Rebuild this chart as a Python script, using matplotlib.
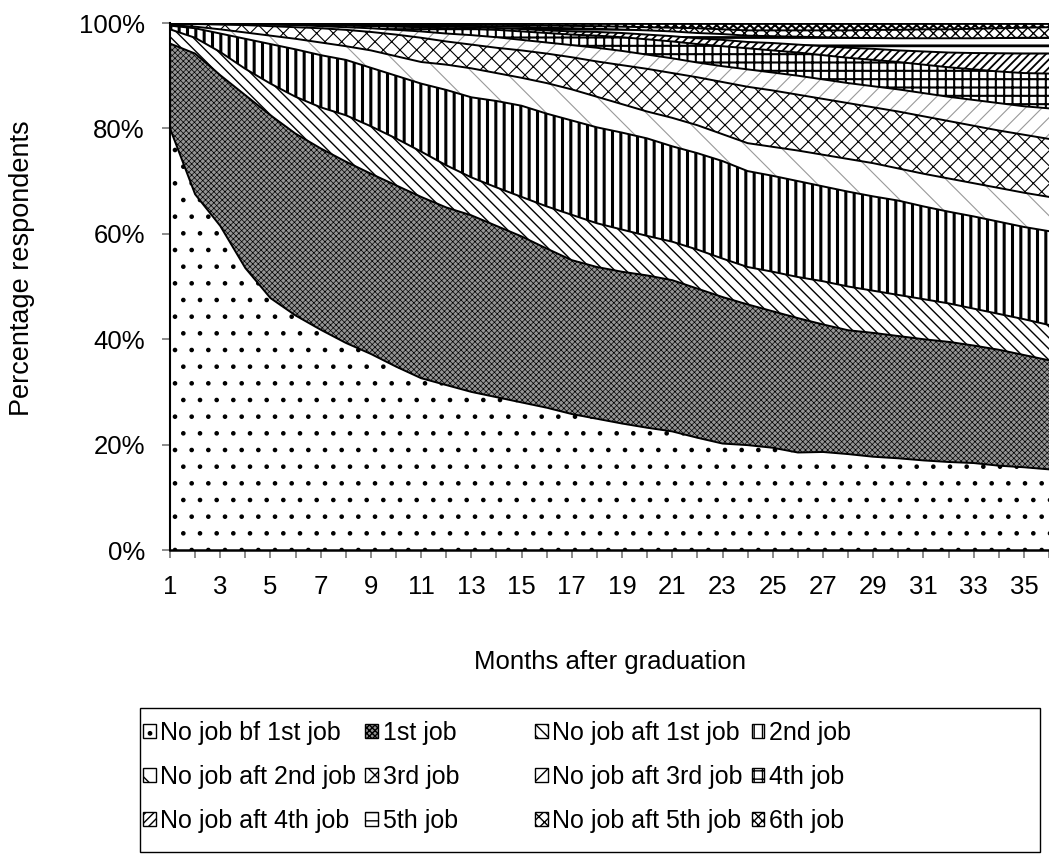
import numpy as np
import matplotlib
matplotlib.use('Agg')
import matplotlib.pyplot as plt
import matplotlib.patches as mpatches

# Months after graduation (category axis)
months = list(range(1, 37))

# Cumulative upper edge (%) of each layer
top_no_job_bf_1st = [80.0, 67.5, 61.5, 53.5, 47.8, 44.5, 41.8, 39.3, 37.2, 34.8, 32.6, 31.3,
                     30.0, 29.0, 28.0, 27.0, 25.8, 24.9, 24.0, 23.2, 22.5, 21.3, 20.2, 19.9,
                     19.4, 18.5, 18.6, 18.2, 17.7, 17.4, 17.0, 16.7, 16.5, 16.0, 15.7, 15.3]
top_1st_job = [96.1, 94.2, 90.1, 86.3, 82.5, 79.0, 76.2, 73.7, 71.4, 69.2, 67.0, 65.0,
               63.5, 61.5, 59.5, 57.2, 55.0, 53.7, 52.8, 52.1, 51.2, 49.6, 48.0, 46.6,
               45.3, 44.0, 42.8, 41.7, 41.2, 40.6, 40.0, 39.5, 38.8, 38.0, 37.0, 36.0]
top_no_job_aft_1st = [98.8, 97.2, 94.5, 91.3, 88.5, 86.0, 84.0, 82.5, 80.4, 78.1, 75.6, 73.0,
                      70.7, 68.8, 67.0, 65.2, 63.6, 62.0, 60.8, 59.6, 58.5, 57.0, 55.3, 53.7,
                      52.8, 51.8, 51.0, 50.0, 49.2, 48.4, 47.6, 46.8, 45.8, 44.8, 43.8, 42.7]
top_2nd_job = [99.5, 99.0, 98.0, 97.0, 96.0, 95.0, 93.9, 93.0, 91.5, 90.0, 88.5, 87.3,
               85.9, 85.2, 84.3, 82.8, 81.5, 80.2, 79.2, 78.1, 76.6, 75.3, 73.8, 71.9,
               71.0, 70.0, 69.0, 68.0, 67.1, 66.3, 65.2, 64.2, 63.3, 62.3, 61.3, 60.5]
top_no_job_aft_2nd = [99.6, 99.3, 98.8, 98.2, 97.6, 97.0, 96.3, 95.6, 94.8, 93.7, 92.6, 92.1,
                      91.4, 90.5, 89.6, 88.6, 87.4, 86.0, 84.6, 83.2, 82.0, 80.6, 78.9, 77.2,
                      76.5, 75.8, 75.0, 74.2, 73.4, 72.4, 71.4, 70.5, 69.6, 68.7, 67.8, 67.0]
top_3rd_job = [99.8, 99.8, 99.7, 99.6, 99.4, 99.2, 99.0, 98.7, 98.3, 97.8, 97.2, 96.5,
               95.9, 95.3, 94.8, 94.2, 93.5, 92.7, 92.0, 91.3, 90.5, 89.7, 88.8, 87.9,
               87.2, 86.4, 85.6, 84.8, 84.0, 83.2, 82.3, 81.4, 80.5, 79.6, 78.8, 78.0]
top_no_job_aft_3rd = [99.9, 99.9, 99.8, 99.8, 99.7, 99.6, 99.4, 99.2, 99.0, 98.7, 98.4, 98.0,
                      97.7, 97.3, 96.8, 96.3, 95.8, 95.3, 94.7, 94.0, 93.3, 92.5, 91.8, 91.2,
                      90.6, 90.0, 89.3, 88.6, 88.0, 87.4, 86.7, 86.0, 85.4, 84.8, 84.2, 83.8]
top_4th_job = [99.95, 99.95, 99.85, 99.85, 99.75, 99.7, 99.6, 99.5, 99.4, 99.3, 99.2, 99.0,
               98.9, 98.7, 98.4, 98.1, 97.8, 97.6, 97.3, 96.9, 96.5, 96.0, 95.6, 95.2,
               94.8, 94.4, 93.9, 93.4, 93.0, 92.6, 92.1, 91.6, 91.2, 90.8, 90.5, 90.4]
top_no_job_aft_4th = [99.97, 99.97, 99.9, 99.9, 99.8, 99.75, 99.7, 99.6, 99.55, 99.5, 99.4, 99.3,
                      99.2, 99.05, 98.85, 98.6, 98.4, 98.3, 98.1, 97.8, 97.5, 97.1, 96.8, 96.4,
                      96.2, 95.9, 95.6, 95.3, 95.1, 94.8, 94.6, 94.4, 94.3, 94.25, 94.2, 94.2]
top_5th_job = [99.98, 99.98, 99.92, 99.92, 99.83, 99.78, 99.75, 99.7, 99.65, 99.6, 99.55, 99.5,
               99.45, 99.35, 99.25, 99.1, 99.0, 98.9, 98.75, 98.6, 98.4, 98.1, 97.9, 97.6,
               97.5, 97.4, 97.3, 97.2, 97.15, 97.1, 97.1, 97.1, 97.1, 97.15, 97.2, 97.2]
top_no_job_aft_5th = [99.99, 99.99, 99.95, 99.95, 99.9, 99.9, 99.85, 99.85, 99.8, 99.8, 99.8, 99.75,
                      99.7, 99.65, 99.6, 99.5, 99.45, 99.4, 99.3, 99.2, 99.1, 99.0, 98.8, 98.6,
                      98.6, 98.6, 98.6, 98.6, 98.7, 98.7, 98.8, 98.8, 98.9, 99.0, 99.1, 99.2]

labels = ['No job bf 1st job', '1st job', 'No job aft 1st job', '2nd job',
          'No job aft 2nd job', '3rd job', 'No job aft 3rd job', '4th job',
          'No job aft 4th job', '5th job', 'No job aft 5th job', '6th job']

x_ticks = list(range(1, 37, 2))
y_ticks = [0, 20, 40, 60, 80, 100]

# (face colour, hatch, hatch colour, hatch linewidth) per layer, bottom to top
styles = [
    ('white', '.', 'black', 0.9),
    ('#959595', 'xxxxxx', 'black', 0.5),
    ('white', '\\\\\\', 'black', 1.0),
    ('white', '||', 'black', 2.2),
    ('white', '\\', '#999999', 0.8),
    ('white', 'xx', 'black', 0.8),
    ('white', '//', '#999999', 0.8),
    ('white', '++', 'black', 1.5),
    ('white', '////', 'black', 1.3),
    ('white', '--', 'black', 2.0),
    ('white', 'xxx', 'black', 1.0),
    ('white', 'xxxx', 'black', 1.5),
]

plt.rcParams['font.family'] = ['Liberation Sans', 'DejaVu Sans']
plt.rcParams['hatch.linewidth'] = 1.0


def set_hatch_lw(artist, lw):
    # per-artist hatch width (matplotlib >= 3.10)
    try:
        artist.set_hatch_linewidth(lw)
    except AttributeError:
        pass


fig = plt.figure(figsize=(10.49, 8.55), dpi=100)
ax = fig.add_axes([170 / 1049, 1 - 550 / 855, 1 - 170 / 1049, (550 - 23) / 855])

tops = [top_no_job_bf_1st, top_1st_job, top_no_job_aft_1st, top_2nd_job,
        top_no_job_aft_2nd, top_3rd_job, top_no_job_aft_3rd, top_4th_job,
        top_no_job_aft_4th, top_5th_job, top_no_job_aft_5th]

lower = np.zeros(len(months))
handles = []
for i, lab in enumerate(labels):
    face, hatch, hcol, hlw = styles[i]
    upper = np.array(tops[i]) if i < len(tops) else np.full(len(months), 100.0)
    poly = ax.fill_between(months, lower, upper, facecolor=face, hatch=hatch,
                           edgecolor=hcol, linewidth=0)
    set_hatch_lw(poly, hlw)
    h = mpatches.Patch(facecolor=face, hatch=hatch, edgecolor='black', linewidth=1.0)
    set_hatch_lw(h, min(hlw, 1.0))
    handles.append(h)
    lower = upper

# layer boundaries
for t in tops:
    ax.plot(months, t, color='black', lw=1.4, solid_joinstyle='round')
ax.axhline(100, color='black', lw=2.0)

ax.set_xlim(1, 36)
ax.set_ylim(0, 100)
for s in ['top', 'right']:
    ax.spines[s].set_visible(False)
ax.spines['left'].set_linewidth(1.5)
ax.spines['bottom'].set_linewidth(1.8)

ax.set_xticks(x_ticks)
ax.set_xticks(months, minor=True)
ax.set_xticklabels([str(m) for m in x_ticks])
ax.set_yticks(y_ticks)
ax.set_yticklabels([f'{v}%' for v in y_ticks])
ax.tick_params(axis='both', which='both', direction='out', length=6, width=1.2,
               color='#777777', labelsize=18.5, pad=12)

ax.set_xlabel('Months after graduation', fontsize=18.5)
ax.xaxis.set_label_coords(0.5, -0.19)
ax.set_ylabel('Percentage respondents', fontsize=19.5)
ax.yaxis.set_label_coords(-0.154, 0.535)

# legend: two blocks of 2 columns (Excel-like layout), inside one frame
blocks = [([0, 4, 8, 1, 5, 9], 143), ([2, 6, 10, 3, 7, 11], 535)]
for idx, cx in blocks:
    fig.legend([handles[k] for k in idx], [labels[k] for k in idx], ncol=2,
               loc='upper left', bbox_to_anchor=(cx / 1049, 1 - 721 / 855),
               frameon=False, fontsize=18, handlelength=0.5, handleheight=0.5,
               handletextpad=0.2, labelspacing=0.8, columnspacing=0.35,
               borderpad=0, borderaxespad=0)
fig.patches.append(mpatches.Rectangle((140 / 1049, 1 - 852 / 855), 900 / 1049, 144 / 855,
                                      transform=fig.transFigure, fill=False,
                                      edgecolor='black', linewidth=1.0))

fig.savefig('out.png', dpi=100)
